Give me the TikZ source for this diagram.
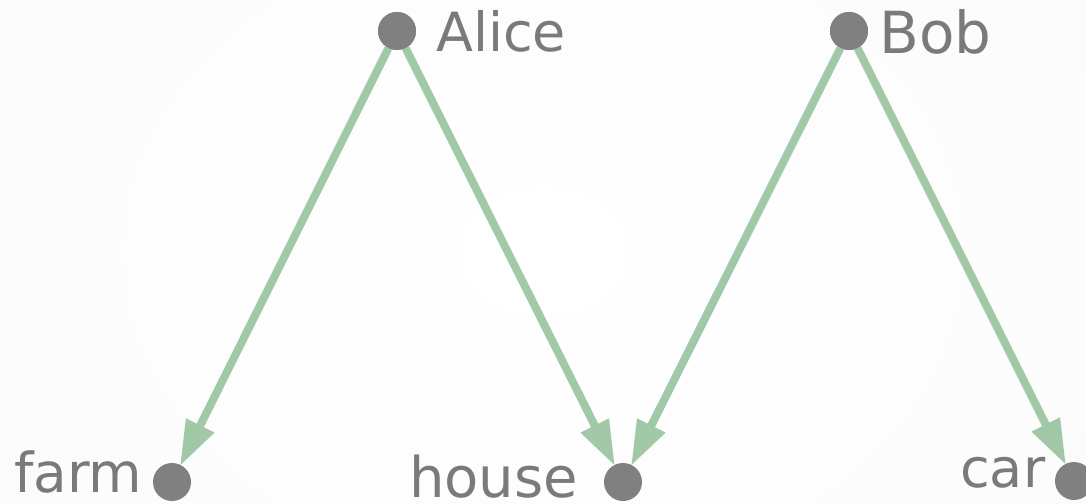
\documentclass[tikz,border=0pt]{standalone}
\usepackage{fontspec}
\setmainfont{DejaVu Sans}
\usetikzlibrary{arrows.meta}
\definecolor{dotgray}{RGB}{128,128,128}
\definecolor{txtgray}{RGB}{122,122,122}
\definecolor{linkgreen}{RGB}{100,165,110}
\definecolor{bgedge}{RGB}{250,250,250}
\tikzset{
  dot/.style={circle,fill=dotgray,draw=none,minimum size=38pt,inner sep=0pt},
  lbl/.style={anchor=base west,inner sep=0pt,text=txtgray},
  link/.style={draw=linkgreen,opacity=0.6,line width=8pt,
    -{Triangle[length=44pt,width=32pt,fill=linkgreen,line width=0pt]}}
}
\begin{document}
\begin{tikzpicture}[x=1pt,y=-1pt]
\useasboundingbox (0,0) rectangle (1086,503);
\shade[inner color=white,outer color=bgedge] (-300,-400) rectangle (1386,903);
\node[dot] (alice) at (397,31) {};
\node[dot] (bob) at (849,31) {};
\node[dot] (farm) at (172,482) {};
\node[dot] (house) at (623,482) {};
\node[dot] (car) at (1074,481) {};
\node[lbl,font=\fontsize{54}{60}\selectfont] (alicel) at (436,52) {Alice};
\node[lbl,font=\fontsize{58}{64}\selectfont] (bobl) at (879,53) {Bob};
\node[lbl,font=\fontsize{55}{60}\selectfont] (farml) at (14,492) {farm};
\node[lbl,font=\fontsize{56}{60}\selectfont] (housel) at (409,497) {house};
\node[lbl,font=\fontsize{54}{60}\selectfont] (carl) at (960,487) {car};
\draw[link] (alice) -- (farm);
\draw[link] (alice) -- (house);
\draw[link] (bob) -- (house);
\draw[link] (bob) -- (car);
\node[dot] at (alice) {};
\node[dot] at (bob) {};
\end{tikzpicture}
\end{document}
